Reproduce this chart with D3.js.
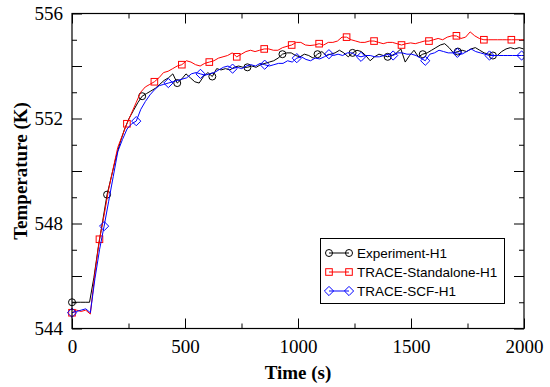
<!DOCTYPE html>
<html>
<head>
<meta charset="utf-8">
<script src="https://cdn.jsdelivr.net/npm/d3@7/dist/d3.min.js"></script>
<style>
  body { margin: 0; background: #fff; }
  svg { display: block; }
  .tick text { font-family: "Liberation Serif", serif; font-size: 19px; fill: #000; }
  .tick line { stroke: #000; }
  .legend text { font-family: "Liberation Sans", sans-serif; font-size: 13.5px; fill: #000; }
</style>
</head>
<body>
<svg id="chart" width="550" height="387"></svg>
<script>
// sampling steps (s) and marker spacing (every n-th sample)
var expStep = 19.4, expEvery = 8;
var standStep = 20.25, standEvery = 6;
var scfStep = 20.3, scfEvery = 7;

// Experiment-H1, temperature (K)
var expTemp = [
  545.0, 545.0, 545.0, 545.0, 545.0, 545.95, 547.1, 548.1, 549.1, 549.8,
  550.5, 551.1, 551.6, 552.0, 552.3, 552.6, 552.85, 552.95, 553.05, 553.15,
  553.3, 553.45, 553.55, 553.7, 553.35, 553.5, 553.7, 553.55, 553.4, 553.35,
  553.6, 553.75, 553.6, 553.9, 553.85, 553.9, 553.85, 553.95, 554.0, 553.95,
  553.95, 554.0, 553.95, 554.05, 554.1, 554.15, 554.2, 554.3, 554.45, 554.5,
  554.5, 554.4, 554.35, 554.45, 554.4, 554.3, 554.45, 554.55, 554.4, 554.45,
  554.5, 554.6, 554.5, 554.35, 554.5, 554.6, 554.55, 554.4, 554.2, 554.35,
  554.45, 554.4, 554.35, 554.4, 554.5, 554.65, 554.15, 554.4, 554.6, 554.35,
  554.45, 554.5, 554.6, 554.7, 554.8, 554.85, 554.7, 554.5, 554.55, 554.6,
  554.55, 554.65, 554.7, 554.6, 554.5, 554.45, 554.4, 554.4, 554.55, 554.65,
  554.7, 554.65, 554.7, 554.65
];

// TRACE-Standalone-H1
var standTemp = [
  544.6, 544.7, 544.65, 544.7, 544.55, 546.1, 547.4, 548.3, 549.3, 550.1,
  550.9, 551.35, 551.8, 552.2, 552.6, 553.0, 553.2, 553.3, 553.4, 553.55,
  553.75, 553.8, 553.9, 554.0, 554.05, 554.2, 554.15, 554.05, 554.0, 554.1,
  554.15, 554.2, 554.3, 554.35, 554.4, 554.5, 554.35, 554.45, 554.55, 554.6,
  554.55, 554.6, 554.65, 554.65, 554.6, 554.6, 554.7, 554.75, 554.8, 554.9,
  554.9, 554.8, 554.78, 554.8, 554.85, 554.8, 554.9, 554.9, 554.95, 555.1,
  555.1, 555.0, 554.95, 554.9, 554.9, 554.95, 554.95, 554.9, 554.85, 554.9,
  554.9, 554.85, 554.8, 554.85, 554.88, 554.85, 554.9, 554.95, 554.95, 555.0,
  555.05, 555.0, 555.1, 555.15, 555.15, 555.05, 555.1, 555.3, 555.15, 555.05,
  555.0, 555.0, 555.0, 555.0, 555.0, 555.0, 555.0, 555.0, 555.0, 555.0
];

// TRACE-SCF-H1
var scfTemp = [
  544.6, 544.65, 544.7, 544.75, 544.6, 545.9, 547.0, 547.9, 548.85, 549.8,
  550.75, 551.2, 551.6, 551.8, 551.9, 552.35, 552.65, 552.9, 553.1, 553.25,
  553.3, 553.35, 553.4, 553.45, 553.5, 553.55, 553.7, 553.75, 553.7, 553.65,
  553.7, 553.75, 553.85, 553.95, 554.0, 553.9, 553.95, 553.9, 554.0, 554.05,
  554.0, 554.1, 554.05, 554.0, 554.05, 554.1, 554.1, 554.2, 554.15, 554.3,
  554.35, 554.25, 554.2, 554.3, 554.27, 554.35, 554.45, 554.4, 554.45, 554.4,
  554.5, 554.5, 554.4, 554.35, 554.4, 554.4, 554.35, 554.35, 554.4, 554.45,
  554.4, 554.5, 554.5, 554.45, 554.45, 554.4, 554.3, 554.2, 554.45, 554.5,
  554.6, 554.55, 554.5, 554.5, 554.5, 554.45, 554.55, 554.65, 554.55, 554.5,
  554.45, 554.4, 554.4, 554.4, 554.4, 554.4, 554.4, 554.4, 554.4, 554.4
];

var xTicks = d3.range(0, 2001, 250);
var yTicks = d3.range(544, 557, 1);
var legendNames = ["Experiment-H1", "TRACE-Standalone-H1", "TRACE-SCF-H1"];

var margin = {top: 13.5, right: 26, bottom: 58.5, left: 72};
var width = 550 - margin.left - margin.right;
var height = 387 - margin.top - margin.bottom;

var svg = d3.select('#chart');
var g = svg.append('g').attr('transform', 'translate(' + margin.left + ',' + margin.top + ')');

var x = d3.scaleLinear().domain([0, 2000]).range([0, width]);
var y = d3.scaleLinear().domain([544, 556]).range([height, 0]);

function toPoints(vals, step) {
    return vals.map((v, i) => ({t: i * step, v: v, i: i}));
}

var series = [
    {name: legendNames[0], pts: toPoints(expTemp, expStep), every: expEvery, color: '#000', marker: 'circle'},
    {name: legendNames[1], pts: toPoints(standTemp, standStep), every: standEvery, color: '#f00', marker: 'square'},
    {name: legendNames[2], pts: toPoints(scfTemp, scfStep), every: scfEvery, color: '#00f', marker: 'diamond'}
];

// ticks, major every 500 s / 2 K, minor between
function addAxis(axis, transform) {
    var a = g.append('g').attr('transform', transform).call(axis);
    a.select('.domain').remove();
    return a;
}
var majorX = xTicks.filter(d => d % 500 === 0), minorX = xTicks.filter(d => d % 500 !== 0);
var majorY = yTicks.filter(d => d % 2 === 0), minorY = yTicks.filter(d => d % 2 !== 0);

addAxis(d3.axisBottom(x).tickValues(majorX).tickSize(-10).tickPadding(8).tickFormat(d3.format('d')), 'translate(0,' + height + ')')
    .selectAll('text').attr('dy', '0.85em');
addAxis(d3.axisBottom(x).tickValues(minorX).tickSize(-5).tickFormat(''), 'translate(0,' + height + ')');
addAxis(d3.axisTop(x).tickValues(majorX).tickSize(-10).tickFormat(''), 'translate(0,0)');
addAxis(d3.axisTop(x).tickValues(minorX).tickSize(-5).tickFormat(''), 'translate(0,0)');
addAxis(d3.axisLeft(y).tickValues(majorY).tickSize(-10).tickPadding(9).tickFormat(d => d % 4 === 0 ? d : ''), 'translate(0,0)');
addAxis(d3.axisLeft(y).tickValues(minorY).tickSize(-5).tickFormat(''), 'translate(0,0)');
addAxis(d3.axisRight(y).tickValues(majorY).tickSize(-10).tickFormat(''), 'translate(' + width + ',0)');
addAxis(d3.axisRight(y).tickValues(minorY).tickSize(-5).tickFormat(''), 'translate(' + width + ',0)');

g.append('clipPath').attr('id', 'clip')
    .append('rect').attr('x', -6).attr('y', -6).attr('width', width + 6).attr('height', height + 12);

var line = d3.line().x(d => x(d.t)).y(d => y(d.v));

function drawMarker(sel, type, color) {
    if (type === 'circle') {
        sel.append('circle').attr('r', 3.5);
    } else if (type === 'square') {
        sel.append('rect').attr('x', -3.3).attr('y', -3.3).attr('width', 6.6).attr('height', 6.6);
    } else {
        sel.append('path').attr('d', 'M0,-4.6L4.6,0L0,4.6L-4.6,0Z');
    }
    sel.selectAll('*').attr('fill', 'none').attr('stroke', color).attr('stroke-width', 1);
}

var plot = g.append('g').attr('clip-path', 'url(#clip)');
series.forEach(s => {
    var pts = s.pts.filter(d => d.t <= 2000 + s.pts[1].t);
    plot.append('path')
        .datum(pts)
        .attr('fill', 'none')
        .attr('stroke', s.color)
        .attr('stroke-width', 1)
        .attr('d', line);
    plot.selectAll(null)
        .data(pts.filter(d => d.i % s.every === 0 && d.t <= 2000))
        .enter()
        .append('g')
        .attr('transform', d => 'translate(' + x(d.t) + ',' + y(d.v) + ')')
        .each(function () { drawMarker(d3.select(this), s.marker, s.color); });
});

// frame
g.append('rect')
    .attr('width', width).attr('height', height)
    .attr('fill', 'none').attr('stroke', '#000').attr('stroke-width', 1.2);

// axis titles
svg.append('text')
    .attr('x', margin.left + width / 2).attr('y', 379)
    .attr('text-anchor', 'middle')
    .style('font-family', '"Liberation Serif", serif').style('font-size', '19px').style('font-weight', 'bold')
    .text('Time (s)');
svg.append('text')
    .attr('transform', 'translate(27,' + (margin.top + height / 2) + ') rotate(-90)')
    .attr('text-anchor', 'middle')
    .style('font-family', '"Liberation Serif", serif').style('font-size', '19px').style('font-weight', 'bold')
    .text('Temperature (K)');

// legend
var legend = svg.append('g').attr('class', 'legend');
legend.append('rect')
    .attr('x', 320.5).attr('y', 238.5).attr('width', 184).attr('height', 65)
    .attr('fill', '#fff').attr('stroke', '#000').attr('stroke-width', 1);
series.forEach((s, k) => {
    var yy = 253 + k * 19;
    var row = legend.append('g');
    row.append('line')
        .attr('x1', 329).attr('x2', 349).attr('y1', yy).attr('y2', yy)
        .attr('stroke', s.color).attr('stroke-width', 1);
    [329, 349].forEach(xx => {
        drawMarker(row.append('g').attr('transform', 'translate(' + xx + ',' + yy + ')'), s.marker, s.color);
    });
    row.append('text').attr('x', 357).attr('y', yy).attr('dy', '0.35em').text(s.name);
});
</script>
</body>
</html>
